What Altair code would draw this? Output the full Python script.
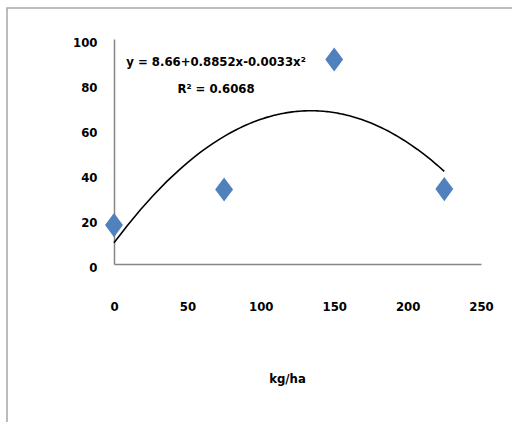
import altair as alt
import pandas as pd

# Data
dose = [0, 75, 150, 225]
value = [17.3, 33.1, 90.9, 33.3]
x_ticks = [0, 50, 100, 150, 200, 250]
y_ticks = [0, 20, 40, 60, 80, 100]
eq_text = ["y = 8.66+0.8852x-0.0033x²", "R² = 0.6068"]

df = pd.DataFrame({"x": dose, "y": value})

FONT = "Liberation Sans Narrow, DejaVu Sans Condensed, Open Sans, sans-serif"
GRAY = "#868686"
BLUE = "#4F81BD"

xs = alt.Scale(domain=[0, 250], nice=False)
ys = alt.Scale(domain=[0, 100], nice=False)

x_axis = alt.Axis(
    values=x_ticks, title="kg/ha", grid=False, ticks=False, labelFlush=False,
    domainColor=GRAY, domainWidth=1.5, labelPadding=36,
    labelFont=FONT, labelFontSize=13, labelFontWeight="bold", labelColor="#000",
    titleFont=FONT, titleFontSize=13, titleFontWeight="bold", titleColor="#000",
    titleX=173, titleY=114, titleBaseline="middle")
y_axis = alt.Axis(
    values=y_ticks, title=None, grid=False, ticks=False, labelFlush=False,
    domainColor=GRAY, domainWidth=1.5, labelPadding=17, labelOffset=3,
    labelFont=FONT, labelFontSize=13, labelFontWeight="bold", labelColor="#000")

base = alt.Chart(df)

trend = base.transform_regression(
    "x", "y", method="poly", order=2
).mark_line(color="black", strokeWidth=1.6).encode(
    x=alt.X("x:Q", scale=xs, axis=x_axis),
    y=alt.Y("y:Q", scale=ys, axis=y_axis),
)

points = base.mark_point(
    shape="M0,-1.35L1,0L0,1.35L-1,0Z", filled=True, fill=BLUE, stroke=None,
    size=320, opacity=1,
).encode(
    x=alt.X("x:Q", scale=xs, axis=x_axis),
    y=alt.Y("y:Q", scale=ys, axis=y_axis),
)

eq_df = pd.DataFrame({"t": eq_text, "row": [0, 1]})
eq = alt.Chart(eq_df).mark_text(
    font=FONT, fontSize=13, fontWeight="bold", color="#000", align="center", baseline="middle"
).encode(
    text="t:N",
    x=alt.value(102),
    y=alt.value(0),
    yOffset=alt.YOffset("row:Q", scale=alt.Scale(domain=[0, 1], range=[23, 50])),
)

frame = alt.Chart(pd.DataFrame({"a": [0]})).mark_rect(
    fill=None, stroke="#a6a6a6", strokeWidth=1.5
).encode(
    x=alt.value(-107), x2=alt.value(410), y=alt.value(-31), y2=alt.value(400)
)

chart = alt.layer(frame, trend, points, eq).resolve_scale(
    x="shared", y="shared"
).properties(
    width=367, height=225,
    autosize=alt.AutoSizeParams(type="none"),
    padding={"left": 114, "top": 39, "right": 31, "bottom": 158},
).configure_view(stroke=None)

chart.save("out.html", embed_options={"renderer": "svg", "actions": False})
